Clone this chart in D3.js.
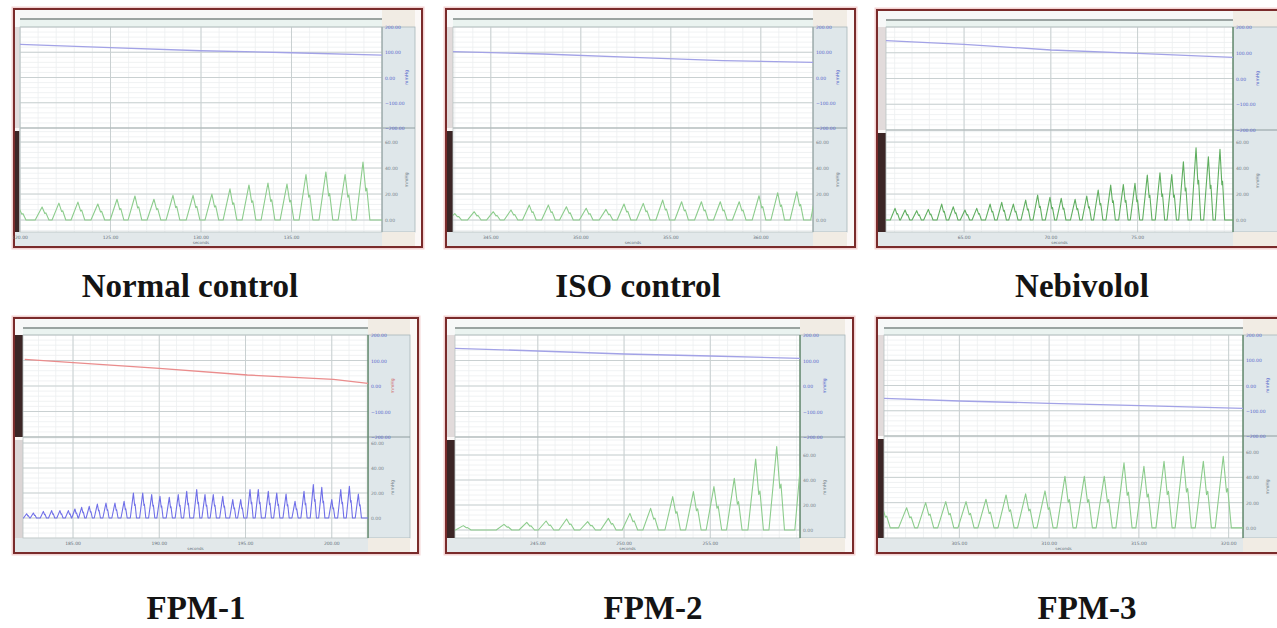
<!DOCTYPE html>
<html>
<head>
<meta charset="utf-8">
<script src="https://cdn.jsdelivr.net/npm/d3@7"></script>
<style>
body { margin: 0; background: #fff; }
svg { display: block; }
</style>
</head>
<body>
<script>
// captions under each recording
var captions = ["Normal control", "ISO control", "Nebivolol", "FPM-1", "FPM-2", "FPM-3"];

// upper trace, [seconds from start, value]
var upper1 = [[0, 131.5], [5, 118], [10, 106], [15, 98], [20, 89]];
var upper2 = [[0, 102.6], [5, 93], [10, 80], [15, 67], [20, 60]];
var upper3 = [[0, 146.8], [4.5, 132.8], [9.5, 110.7], [14.5, 97.9], [20, 82.3]];
var upper4 = [[0.1, 104.7], [7.9, 69.4], [13, 43.1], [18, 26.3], [20, 10.6]];
var upper5 = [[0, 147.8], [4.8, 137.3], [9.8, 125.5], [14.8, 117.6], [20, 108.6]];
var upper6 = [[0, -50.7], [4.2, -61.4], [9.2, -70.5], [14.3, -80], [20, -90.3]];

// lower pulse trace: peak times (s from start) and peak heights
var peakT1 = [-0.05, 1.22, 2.15, 3.2, 4.3, 5.36, 6.35, 7.4, 8.45, 9.56, 10.6, 11.6, 12.65, 13.7, 14.75, 15.8, 16.9, 17.96, 18.95];
var peakV1 = [9, 10, 13, 13.8, 12.3, 16, 18.5, 16, 19, 19, 20, 24, 27, 28.5, 27.7, 35, 37, 35, 44.6];
var peakT2 = [0.1, 1.18, 2.24, 3.22, 4.24, 5.3, 6.3, 7.4, 8.5, 9.5, 10.57, 11.65, 12.7, 13.8, 14.85, 15.9, 17, 18.04, 19.1, 20.25];
var peakV2 = [5, 6.4, 6.4, 7.7, 11.5, 11.5, 10.2, 9, 8.2, 12.3, 12.8, 15.4, 14.1, 14.1, 14.1, 14.1, 18.7, 21, 21.8, 28];
var peakT3 = [0.52, 1.1, 1.77, 2.44, 3.21, 3.88, 4.55, 5.23, 6, 6.67, 7.34, 8.05, 8.74, 9.45, 10.1, 10.9, 11.57, 12.23, 12.95, 13.68, 14.35, 15.06, 15.79, 16.47, 17.14, 17.87, 18.58, 19.25];
var peakV3 = [9, 7.7, 7.2, 8.2, 12.3, 10.2, 7.7, 9, 12.3, 13.6, 12.3, 15.4, 19.2, 17.5, 16.7, 15.9, 18.5, 23.1, 26.9, 27.4, 28.2, 34.6, 36.4, 35.1, 44.8, 55.6, 48.7, 54.4];
var peakT4 = [0.21, 0.6, 1.18, 1.66, 2.14, 2.63, 3.01, 3.4, 3.84, 4.31, 4.81, 5.33, 5.86, 6.4, 6.94, 7.46, 7.94, 8.48, 9, 9.49, 10.07, 10.55, 11.03, 11.58, 12.16, 12.62, 13.16, 13.64, 14.22, 14.71, 15.25, 15.77, 16.29, 16.83, 17.32, 17.9, 18.42, 18.92, 19.44];
var peakV4 = [3.4, 4, 5.3, 5.9, 5.9, 5.9, 7.2, 8.5, 9.3, 11.2, 12, 12, 13.3, 20, 20, 18.7, 17.3, 16.5, 18.7, 21.3, 22.7, 18.7, 18.7, 17.3, 14.7, 14.7, 22.7, 22.7, 21.3, 20, 19.2, 13.3, 21.3, 26.7, 24.5, 14.7, 22.7, 25.3, 19.2];
var peakT5 = [0.48, 2.84, 4.16, 5.28, 6.47, 7.69, 8.89, 10.14, 11.34, 12.62, 13.82, 15.01, 16.19, 17.43, 18.65, 20.15];
var peakV5 = [3.5, 4.5, 6.1, 7.2, 8.8, 6.7, 9.3, 13.3, 17.3, 26.7, 30.7, 34.7, 41.3, 56.8, 66.7, 72];
var peakT6 = [-0.1, 1.26, 2.32, 3.44, 4.57, 5.68, 6.8, 7.89, 8.97, 10.08, 11.16, 12.27, 13.37, 14.48, 15.6, 16.67, 17.79, 18.9];
var peakV6 = [17, 16, 20, 20.8, 20.8, 22.7, 26.1, 27, 29.3, 40.8, 40.8, 40.8, 51.5, 48.8, 52.8, 56.8, 52.8, 56.8];

// time (s) at the left edge of each recording
var startSec = [120, 342.9, 60.5, 182.1, 240.2, 300.8];

// right hand scale ticks
var upperTicks = [-200, -100, 0, 100, 200];
var lowerTicks = [0, 20, 40, 60];

var uppers = [upper1, upper2, upper3, upper4, upper5, upper6];
var peakTs = [peakT1, peakT2, peakT3, peakT4, peakT5, peakT6];
var peakVs = [peakV1, peakV2, peakV3, peakV4, peakV5, peakV6];

// frame / plot geometry of each screenshot
var layout = [
  {fx: 14,  fy: 9,   fw: 408, fh: 238, l: 20,  r: 382,  t: 27,  d: 128, b: 232, cr: 415,  dark: "lower", lo: [-9.2, 70.8], hw: 0.38, upCol: "#a2a2e6", loCol: "#8ccc8c"},
  {fx: 446, fy: 9,   fw: 409, fh: 238, l: 453, r: 813,  t: 27,  d: 128, b: 232, cr: 847,  dark: "lower", lo: [-9.2, 70.8], hw: 0.38, upCol: "#a2a2e6", loCol: "#8ccc8c"},
  {fx: 877, fy: 10,  fw: 412, fh: 237, l: 886, r: 1233, t: 27,  d: 130, b: 232, cr: 1289, dark: "lower", lo: [-9.2, 69.3], hw: 0.27, upCol: "#a2a2e6", loCol: "#5fae5f"},
  {fx: 14,  fy: 318, fw: 404, fh: 235, l: 23,  r: 368,  t: 335, d: 437, b: 538, cr: 410,  dark: "upper", lo: [-16, 64.8],  hw: 0.18, upCol: "#ea8c8c", loCol: "#6f6fe8"},
  {fx: 446, fy: 318, fw: 407, fh: 235, l: 455, r: 800,  t: 335, d: 437, b: 538, cr: 845,  dark: "lower", lo: [-6.4, 74.4], hw: 0.45, upCol: "#a2a2e6", loCol: "#8ccc8c"},
  {fx: 877, fy: 318, fw: 412, fh: 235, l: 884, r: 1243, t: 335, d: 436, b: 538, cr: 1289, dark: "lower", lo: [-8, 72.8],   hw: 0.45, upCol: "#a2a2e6", loCol: "#8ccc8c"}
];
var captionPos = [[190, 297], [638, 297], [1082, 297], [196, 619], [653, 619], [1087, 619]];

var svg = d3.select("body").append("svg")
    .attr("width", 1277)
    .attr("height", 628);

var fmt = d3.format(".2f");

layout.forEach(function(p, i) {
  var g = svg.append("g");
  var t0 = startSec[i];

  var x = d3.scaleLinear().domain([t0, t0 + 20]).range([p.l, p.r]);
  var yU = d3.scaleLinear().domain([-200, 200]).range([p.d, p.t]);
  var yL = d3.scaleLinear().domain(p.lo).range([p.b, p.d]);

  // frame
  g.append("rect")
      .attr("x", p.fx - 1.5).attr("y", p.fy - 1.5)
      .attr("width", p.fw + 3).attr("height", p.fh + 3)
      .attr("fill", "none").attr("stroke", "#f3d3d3").attr("stroke-width", 2);
  g.append("rect")
      .attr("x", p.fx).attr("y", p.fy)
      .attr("width", p.fw).attr("height", p.fh)
      .attr("fill", "#fbf8f7").attr("stroke", "#7a2b2b").attr("stroke-width", 2);

  // header strip
  g.append("rect")
      .attr("x", p.fx + 1).attr("y", p.fy + 1)
      .attr("width", p.r - p.fx - 1).attr("height", p.t - p.fy - 1)
      .attr("fill", "#f7f8f8");
  g.append("rect")
      .attr("x", p.l).attr("y", p.fy + 11)
      .attr("width", p.r - p.l).attr("height", p.t - p.fy - 11)
      .attr("fill", "#eaf3f0");
  g.append("line")
      .attr("x1", p.l).attr("x2", p.r)
      .attr("y1", p.fy + 10).attr("y2", p.fy + 10)
      .attr("stroke", "#7c8886").attr("stroke-width", 1.5);

  // right column
  g.append("rect")
      .attr("x", p.r).attr("y", p.fy + 1)
      .attr("width", p.cr - p.r).attr("height", p.t - p.fy - 1)
      .attr("fill", "#f1ece4");
  g.append("rect")
      .attr("x", p.r).attr("y", p.t)
      .attr("width", p.cr - p.r).attr("height", p.b - p.t)
      .attr("fill", "#dfe7ea").attr("stroke", "#a7b6ba").attr("stroke-width", 0.8);
  g.append("line")
      .attr("x1", p.r).attr("x2", p.cr)
      .attr("y1", p.d).attr("y2", p.d)
      .attr("stroke", "#8e9c9f").attr("stroke-width", 1);
  g.append("rect")
      .attr("x", p.r).attr("y", p.b)
      .attr("width", p.cr - p.r).attr("height", p.fy + p.fh - p.b - 1)
      .attr("fill", "#f1ece4");

  // left side bar
  g.append("rect")
      .attr("x", p.fx + 1).attr("y", p.t)
      .attr("width", p.l - p.fx - 1).attr("height", p.d - p.t)
      .attr("fill", p.dark == "upper" ? "#3c2626" : "#e2dbdb");
  g.append("rect")
      .attr("x", p.fx + 1).attr("y", p.d + 3)
      .attr("width", p.l - p.fx - 1).attr("height", p.b - p.d - 3)
      .attr("fill", p.dark == "lower" ? "#3c2626" : "#dcd5d5");

  // bottom time strip
  g.append("rect")
      .attr("x", p.fx + 1).attr("y", p.b)
      .attr("width", p.r - p.fx - 1).attr("height", p.fy + p.fh - p.b - 1)
      .attr("fill", "#e2e8ea");

  // plot area
  g.append("rect")
      .attr("x", p.l).attr("y", p.t)
      .attr("width", p.r - p.l).attr("height", p.b - p.t)
      .attr("fill", "#fff");

  // minor grid
  var minorX = d3.range(Math.ceil(t0), t0 + 20, 1);
  g.selectAll(".vminor").data(minorX).enter().append("line")
      .attr("x1", function(d) { return x(d); }).attr("x2", function(d) { return x(d); })
      .attr("y1", p.t).attr("y2", p.b)
      .attr("stroke", "#eceff0").attr("stroke-width", 0.8);
  var minorU = d3.range(-180, 200, 20);
  g.selectAll(".uminor").data(minorU).enter().append("line")
      .attr("x1", p.l).attr("x2", p.r)
      .attr("y1", function(d) { return yU(d); }).attr("y2", function(d) { return yU(d); })
      .attr("stroke", "#eceff0").attr("stroke-width", 0.8);
  var minorL = d3.range(Math.ceil(p.lo[0] / 4) * 4, p.lo[1], 4);
  g.selectAll(".lminor").data(minorL).enter().append("line")
      .attr("x1", p.l).attr("x2", p.r)
      .attr("y1", function(d) { return yL(d); }).attr("y2", function(d) { return yL(d); })
      .attr("stroke", "#eceff0").attr("stroke-width", 0.8);

  // major grid
  var majorX = x.ticks(4).filter(function(d) { return d % 5 == 0 && d < t0 + 19.5; });
  g.selectAll(".vmajor").data(majorX).enter().append("line")
      .attr("x1", function(d) { return x(d); }).attr("x2", function(d) { return x(d); })
      .attr("y1", p.t).attr("y2", p.b)
      .attr("stroke", "#c9d0d1").attr("stroke-width", 1);
  g.selectAll(".umajor").data(upperTicks).enter().append("line")
      .attr("x1", p.l).attr("x2", p.r)
      .attr("y1", function(d) { return yU(d); }).attr("y2", function(d) { return yU(d); })
      .attr("stroke", "#c9d0d1").attr("stroke-width", 1);
  g.selectAll(".lmajor").data(lowerTicks).enter().append("line")
      .attr("x1", p.l).attr("x2", p.r)
      .attr("y1", function(d) { return yL(d); }).attr("y2", function(d) { return yL(d); })
      .attr("stroke", "#c9d0d1").attr("stroke-width", 1);
  g.append("line")
      .attr("x1", p.l).attr("x2", p.r)
      .attr("y1", p.d).attr("y2", p.d)
      .attr("stroke", "#a9b3b3").attr("stroke-width", 1);
  g.append("rect")
      .attr("x", p.l).attr("y", p.t)
      .attr("width", p.r - p.l).attr("height", p.b - p.t)
      .attr("fill", "none").attr("stroke", "#b8c4c4").attr("stroke-width", 0.8);
  g.append("line")
      .attr("x1", p.r).attr("x2", p.r)
      .attr("y1", p.t).attr("y2", p.b)
      .attr("stroke", i >= 2 ? "#4f7d5a" : "#9aa9a9").attr("stroke-width", 1.2);

  // traces
  var clipId = "clip" + i;
  svg.append("clipPath").attr("id", clipId)
    .append("rect")
      .attr("x", p.l).attr("y", p.t)
      .attr("width", p.r - p.l).attr("height", p.b - p.t);

  var upLine = d3.line()
      .x(function(d) { return x(t0 + d[0]); })
      .y(function(d) { return yU(d[1]); });
  g.append("path")
      .datum(uppers[i])
      .attr("clip-path", "url(#" + clipId + ")")
      .attr("fill", "none")
      .attr("stroke", p.upCol)
      .attr("stroke-width", 1.3)
      .attr("d", upLine);

  // pulse: rise to each peak, small notch on the way down, back to baseline
  var pts = [[-1, 0]];
  peakTs[i].forEach(function(t, k) {
    var v = peakVs[i][k];
    pts.push([t - p.hw, 0]);
    pts.push([t, v]);
    pts.push([t + p.hw * 0.4, v * 0.5]);
    pts.push([t + p.hw * 0.55, v * 0.55]);
    pts.push([t + p.hw, 0]);
  });
  pts.push([21, 0]);
  var loLine = d3.line()
      .x(function(d) { return x(t0 + d[0]); })
      .y(function(d) { return yL(d[1]); });
  g.append("path")
      .datum(pts)
      .attr("clip-path", "url(#" + clipId + ")")
      .attr("fill", "none")
      .attr("stroke", p.loCol)
      .attr("stroke-width", 1.1)
      .attr("stroke-linejoin", "round")
      .attr("d", loLine);

  // right hand labels
  g.selectAll(".ulab").data(upperTicks).enter().append("text")
      .attr("x", p.r + 3).attr("y", function(d) { return yU(d) + 2; })
      .style("font-family", "DejaVu Sans").style("font-size", "4.5px")
      .attr("fill", "#5666cc")
      .text(function(d) { return fmt(d); });
  g.selectAll(".llab").data(lowerTicks).enter().append("text")
      .attr("x", p.r + 3).attr("y", function(d) { return yL(d) + 2; })
      .style("font-family", "DejaVu Sans").style("font-size", "4.5px")
      .attr("fill", "#77838a")
      .text(function(d) { return fmt(d); });
  g.append("text")
      .attr("transform", "translate(" + (p.r + 26) + "," + ((p.t + p.d) / 2) + ") rotate(-90)")
      .attr("text-anchor", "middle")
      .style("font-family", "DejaVu Sans").style("font-size", "4.5px")
      .attr("fill", i == 3 ? "#d07070" : "#5666cc")
      .text("mmHg");
  g.append("text")
      .attr("transform", "translate(" + (p.r + 26) + "," + ((p.d + p.b) / 2) + ") rotate(-90)")
      .attr("text-anchor", "middle")
      .style("font-family", "DejaVu Sans").style("font-size", "4.5px")
      .attr("fill", "#77838a")
      .text("mmHg");

  // time labels
  g.selectAll(".xlab").data(majorX).enter().append("text")
      .attr("x", function(d) { return x(d); }).attr("y", p.b + 7)
      .attr("text-anchor", "middle")
      .style("font-family", "DejaVu Sans").style("font-size", "4.5px")
      .attr("fill", "#66707a")
      .text(function(d) { return fmt(d); });
  g.append("text")
      .attr("x", (p.l + p.r) / 2).attr("y", p.b + 12)
      .attr("text-anchor", "middle")
      .style("font-family", "DejaVu Sans").style("font-size", "4px")
      .attr("fill", "#66707a")
      .text("seconds");

  // caption
  svg.append("text")
      .attr("x", captionPos[i][0]).attr("y", captionPos[i][1])
      .attr("text-anchor", "middle")
      .style("font-family", "Liberation Serif")
      .style("font-weight", "bold")
      .style("font-size", "33px")
      .attr("fill", "#141414")
      .text(captions[i]);
});
</script>
</body>
</html>
